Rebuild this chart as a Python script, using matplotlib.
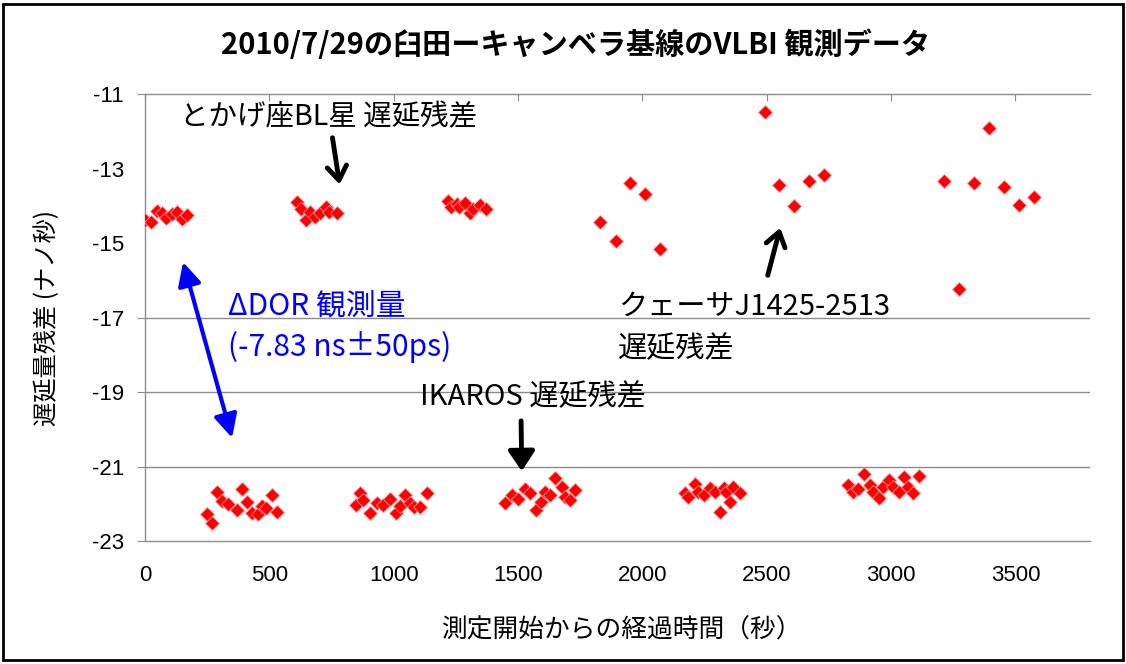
import numpy as np
import matplotlib.pyplot as plt
from matplotlib.patches import Rectangle

plt.rcParams['font.family'] = ['Noto Sans CJK JP', 'DejaVu Sans']

# BL Lac (とかげ座BL星) delay residuals, three scans
bllac_t = [0, 23, 47, 67, 84, 107, 127, 147, 170,
           610, 626, 647, 663, 683, 703, 727, 741, 773,
           1219, 1229, 1253, 1263, 1286, 1306, 1319, 1346, 1373]
bllac_d = [-14.38, -14.43, -14.13, -14.20, -14.34, -14.22, -14.18, -14.36, -14.25,
           -13.90, -14.10, -14.38, -14.16, -14.29, -14.20, -14.04, -14.16, -14.19,
           -13.86, -14.03, -13.95, -14.04, -13.92, -14.20, -14.09, -13.98, -14.09]

# quasar J1425-2513 delay residuals
quasar_t = [1829, 1892, 1949, 2011, 2070, 2491, 2549, 2610, 2670, 2730,
            3211, 3272, 3332, 3392, 3452, 3513, 3573]
quasar_d = [-14.43, -14.94, -13.38, -13.68, -15.17, -11.49, -13.44, -14.01, -13.33, -13.18,
            -13.33, -16.24, -13.40, -11.90, -13.49, -13.98, -13.76]

# IKAROS delay residuals, five scans
ikaros_t = [248, 268, 288, 308, 335, 369, 389, 409, 429, 455, 469, 486, 509, 529,
            848, 864, 876, 904, 933, 957, 985, 1009, 1025, 1045, 1065, 1081, 1105, 1133,
            1447, 1474, 1500, 1527, 1547, 1574, 1594, 1608, 1628, 1648, 1675, 1688, 1708, 1728,
            2170, 2184, 2211, 2224, 2247, 2271, 2291, 2311, 2327, 2338, 2352, 2365, 2392,
            2827, 2847, 2867, 2890, 2914, 2927, 2951, 2967, 2992, 3008, 3032, 3051, 3069, 3088, 3112]
ikaros_d = [-22.28, -22.52, -21.68, -21.92, -22.01, -22.17, -21.59, -21.95, -22.24, -22.28, -22.06, -22.12, -21.77, -22.21,
            -22.03, -21.71, -21.90, -22.25, -21.98, -22.03, -21.87, -22.25, -22.06, -21.77, -21.98, -22.09, -22.09, -21.71,
            -21.99, -21.77, -21.88, -21.59, -21.72, -22.17, -21.95, -21.68, -21.77, -21.32, -21.54, -21.81, -21.90, -21.63,
            -21.72, -21.81, -21.47, -21.68, -21.77, -21.58, -21.68, -22.21, -21.58, -21.68, -21.95, -21.54, -21.72,
            -21.50, -21.68, -21.61, -21.20, -21.50, -21.68, -21.85, -21.54, -21.36, -21.54, -21.68, -21.27, -21.54, -21.72, -21.26]

x_ticks = [0, 500, 1000, 1500, 2000, 2500, 3000, 3500]
y_ticks = [-11, -13, -15, -17, -19, -21, -23]
grid_levels = [-17, -19, -21]

fig = plt.figure(figsize=(11.26, 6.64), dpi=100)
ax = fig.add_axes([0.1288, 0.1852, 0.8393, 0.6732])

for t, d in [(bllac_t, bllac_d), (quasar_t, quasar_d), (ikaros_t, ikaros_d)]:
    ax.plot(t, d, linestyle='none', marker='D', markersize=7.4,
            markerfacecolor='#ff0000', markeredgecolor='#ff9a9a', markeredgewidth=0.6, zorder=3)

ax.set_xlim(0, 3800)
ax.set_ylim(-23, -11)
for g in grid_levels:
    ax.axhline(g, color='#8c8c8c', lw=1, zorder=1)

for s in ['left', 'top', 'bottom']:
    ax.spines[s].set_color('#8c8c8c')
    ax.spines[s].set_linewidth(1)
ax.spines['right'].set_visible(False)

ax.set_xticks(x_ticks)
ax.set_yticks(y_ticks)
ax.set_yticklabels([str(v) for v in y_ticks], family=['Liberation Sans'])
ax.set_xticklabels([str(v) for v in x_ticks], family=['Liberation Sans'])
ax.tick_params(axis='x', top=True, bottom=False, direction='in', length=5,
               color='#8c8c8c', labelsize=16, pad=17)
ax.tick_params(axis='y', direction='out', length=6, color='#8c8c8c', labelsize=16, pad=9)
# the -13 and -15 rows carry labels only
for tk, v in zip(ax.yaxis.get_major_ticks(), y_ticks):
    if v in (-13, -15):
        tk.tick1line.set_visible(False)

ax.set_xlabel('測定開始からの経過時間（秒）', fontsize=18.5)
ax.xaxis.set_label_coords(0.504, -0.17)
ax.set_ylabel('遅延量残差 (ナノ秒)', fontsize=17.5)
ax.yaxis.set_label_coords(-0.09, 0.5)

fig.text(0.5115, 0.932, '2010/7/29の臼田ーキャンベラ基線のVLBI 観測データ',
         ha='center', va='center', fontsize=21, fontweight='bold')

# annotations
ax.text(141, -11.62, 'とかげ座BL星 遅延残差', fontsize=20.5, ha='left', va='center')
ax.annotate('', xy=(784, -13.50), xytext=(752, -12.10),
            arrowprops=dict(arrowstyle='->,head_length=0.5,head_width=0.35', lw=3.5,
                            color='black', mutation_scale=20))

ax.text(1902, -16.72, 'クェーサJ1425-2513', fontsize=21, ha='left', va='center')
ax.text(1902, -17.85, '遅延残差', fontsize=21, ha='left', va='center')
ax.annotate('', xy=(2557, -14.52), xytext=(2501, -15.94),
            arrowprops=dict(arrowstyle='->,head_length=0.5,head_width=0.35', lw=3.5,
                            color='black', mutation_scale=20))

ax.text(1106, -19.13, 'IKAROS 遅延残差', fontsize=21, ha='left', va='center')
ax.annotate('', xy=(1515, -21.20), xytext=(1512, -19.70),
            arrowprops=dict(arrowstyle='-|>,head_length=0.6,head_width=0.4', lw=3.5,
                            color='black', mutation_scale=20))

ax.text(334, -16.69, 'ΔDOR 観測量', fontsize=21.5, ha='left', va='center', color='#0000ff')
ax.text(334, -17.79, '(-7.83 ns±50ps)', fontsize=21.5, ha='left', va='center', color='#0000ff')
ax.annotate('', xy=(153, -15.51), xytext=(350, -20.23),
            arrowprops=dict(arrowstyle='<|-|>,head_length=0.7,head_width=0.35', lw=3,
                            color='#0000ff', mutation_scale=20, shrinkA=0, shrinkB=0))

fig.patches.append(Rectangle((0.003, 0.006), 0.994, 0.988, transform=fig.transFigure,
                             fill=False, edgecolor='black', lw=2))

fig.savefig('out.png', dpi=100)
